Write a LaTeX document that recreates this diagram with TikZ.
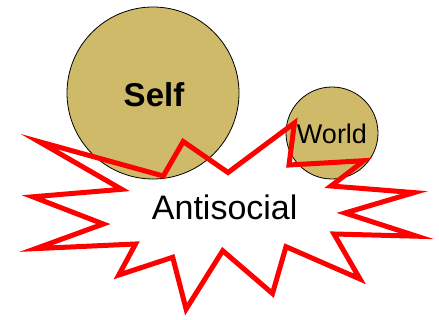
\documentclass[tikz,border=0pt]{standalone}
\usepackage{fontspec}
\setmainfont{Liberation Sans}
\usetikzlibrary{calc,positioning}
\definecolor{ballfill}{RGB}{207,186,106}
\tikzset{
  ball/.style={circle, draw=black, line width=0.8pt, fill=ballfill, inner sep=0pt},
  burst/.style={draw=red, line width=5pt, line join=miter},
  bigword/.style={font=\fontsize{34}{40}\selectfont},
  selfword/.style={font=\fontsize{33}{38}\selectfont\bfseries},
  worldword/.style={font=\fontsize{27}{32}\selectfont}
}
\begin{document}
\begin{tikzpicture}[x=1pt, y=-1pt]
  \useasboundingbox (0,0) rectangle (439,320);

  \node[ball, minimum size=172pt] (self) at (153,93) {};
  \node[ball, minimum size=92pt] (world) at (332,133) {};

  % the burst
  \draw[burst] (38.9,141.6) -- (163.3,176) -- (183.2,141.5) -- (228,172.5)
    -- (294.4,123.0) -- (289,165) -- (364.0,160.7) -- (331,186)
    -- (414.1,192.6) -- (345,213) -- (416.8,236.2) -- (334,234)
    -- (360.0,279.0) -- (286,246.7) -- (272.5,293.5) -- (222.7,250.7)
    -- (186.1,309.1) -- (172.7,257.3) -- (118.8,275.0) -- (135.5,244)
    -- (35.7,248.6) -- (103.3,224) -- (32.8,196.8) -- (121.7,189.3) -- cycle;

  \node[selfword] (selflbl) at ($(self)+(1,2)$) {Self};
  \node[worldword] (worldlbl) at ($(world)+(0,1)$) {World};
  \node[bigword, anchor=base] (anti) at (224.7,219.3) {Antisocial};
\end{tikzpicture}
\end{document}
